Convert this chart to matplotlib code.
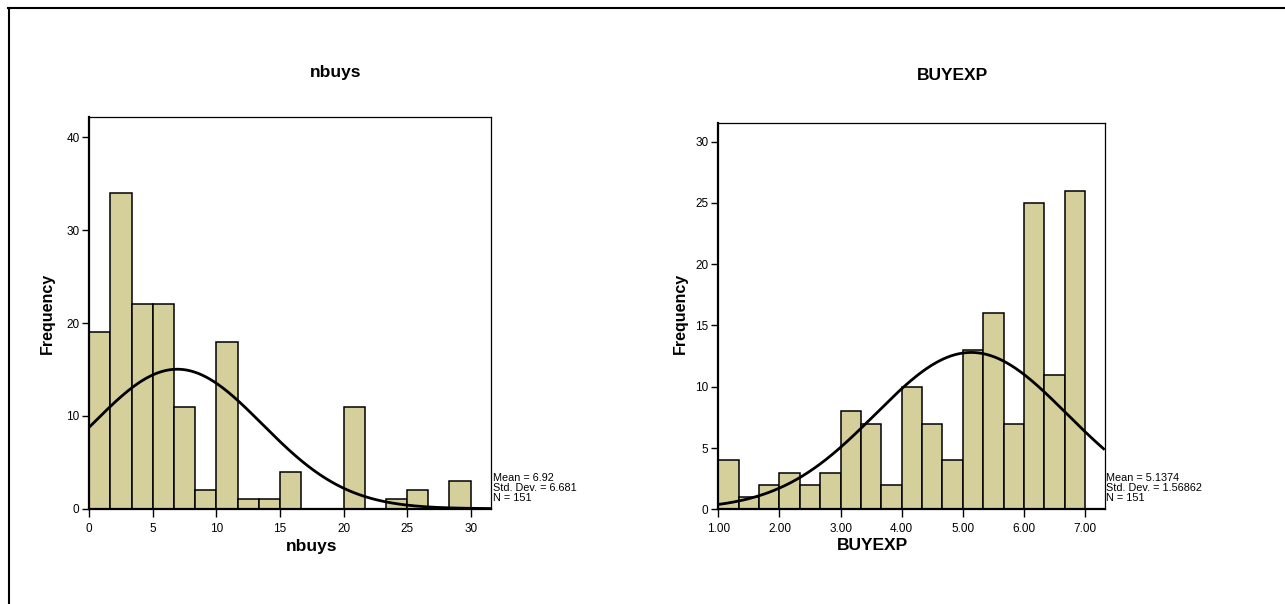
import numpy as np
import matplotlib
matplotlib.use("Agg")
import matplotlib.pyplot as plt
from matplotlib.lines import Line2D

plt.rcParams["font.family"] = ["Liberation Sans", "DejaVu Sans"]

# Histogram of nbuys: 18 bins over 0..30
nbuys_start, nbuys_end = 0.0, 30.0
nbuys_counts = [19, 34, 22, 22, 11, 2, 18, 1, 1, 4, 0, 0, 11, 0, 1, 2, 0, 3]
nbuys_mean, nbuys_sd, nbuys_n = 6.92, 6.681, 151
nbuys_xticks = [0, 5, 10, 15, 20, 25, 30]
nbuys_yticks = [0, 10, 20, 30, 40]

# Histogram of BUYEXP: 18 bins over 1..7
buyexp_start, buyexp_end = 1.0, 7.0
buyexp_counts = [4, 1, 2, 3, 2, 3, 8, 7, 2, 10, 7, 4, 13, 16, 7, 25, 11, 26]
buyexp_mean, buyexp_sd, buyexp_n = 5.1374, 1.56862, 151
buyexp_xticks = [1, 2, 3, 4, 5, 6, 7]
buyexp_yticks = [0, 5, 10, 15, 20, 25, 30]

BAR_COLOR = "#D4CF9B"
W, H = 1285, 604

fig = plt.figure(figsize=(W / 100, H / 100), dpi=100)
fig.patch.set_facecolor("white")


def px_axes(x0, y0, x1, y1):
    return fig.add_axes([x0 / W, 1 - y1 / H, (x1 - x0) / W, (y1 - y0) / H])


def draw_hist(ax, start, end, counts, mean, sd, n, xlim, ylim, xticks, yticks, fmt):
    edges = np.linspace(start, end, len(counts) + 1)
    bw = edges[1] - edges[0]
    ax.bar(edges[:-1], counts, width=bw, align="edge", color=BAR_COLOR,
           edgecolor="black", linewidth=1.1, zorder=2)
    xs = np.linspace(xlim[0], xlim[1], 400)
    ys = n * bw * np.exp(-0.5 * ((xs - mean) / sd) ** 2) / (sd * np.sqrt(2 * np.pi))
    ax.plot(xs, ys, color="black", linewidth=2.0, zorder=3, solid_capstyle="butt")
    ax.set_xlim(*xlim)
    ax.set_ylim(*ylim)
    ax.set_xticks(xticks)
    ax.set_xticklabels([fmt(v) for v in xticks])
    ax.set_yticks(yticks)
    ax.tick_params(axis="both", direction="out", length=5, width=1.0,
                   labelsize=8.5, colors="black", pad=2)
    ax.tick_params(axis="x", length=6, pad=4)
    for side in ("left", "bottom"):
        ax.spines[side].set_linewidth(1.6)
    for side in ("top", "right"):
        ax.spines[side].set_linewidth(0.9)
    ax.set_facecolor("white")


ax1 = px_axes(89.3, 117, 491, 508.7)
draw_hist(ax1, nbuys_start, nbuys_end, nbuys_counts, nbuys_mean, nbuys_sd, nbuys_n,
          (0, 31.6), (0, 42.2), nbuys_xticks, nbuys_yticks, lambda v: f"{v:g}")

ax2 = px_axes(718.3, 122.7, 1104.7, 509.3)
draw_hist(ax2, buyexp_start, buyexp_end, buyexp_counts, buyexp_mean, buyexp_sd, buyexp_n,
          (1.0, 7.32), (0, 31.55), buyexp_xticks, buyexp_yticks, lambda v: f"{v:.2f}")


def ftext(x, y, s, **kw):
    fig.text(x / W, 1 - y / H, s, **kw)


# Titles and axis labels
ftext(336, 72, "nbuys", ha="center", va="center", fontsize=12.5, fontweight="bold")
ftext(953, 75, "BUYEXP", ha="center", va="center", fontsize=12.5, fontweight="bold")
ftext(312, 546, "nbuys", ha="center", va="center", fontsize=12.5, fontweight="bold")
ftext(873, 546, "BUYEXP", ha="center", va="center", fontsize=12.5, fontweight="bold")
ftext(47, 313, "Frequency", ha="center", va="center", rotation=90, fontsize=11.5, fontweight="bold")
ftext(680, 313, "Frequency", ha="center", va="center", rotation=90, fontsize=11.5, fontweight="bold")

# Summary statistics beside each histogram
ftext(493, 488, f"Mean = {nbuys_mean}\nStd. Dev. = {nbuys_sd}\nN = {nbuys_n}",
      ha="left", va="center", fontsize=7.8, linespacing=0.95)
ftext(1106, 488, f"Mean = {buyexp_mean}\nStd. Dev. = {buyexp_sd}\nN = {buyexp_n}",
      ha="left", va="center", fontsize=7.8, linespacing=0.95)

# Outer frame (top and left edges visible)
fig.add_artist(Line2D([9 / W, 9 / W], [0, 1 - 8 / H], transform=fig.transFigure,
                      color="black", linewidth=1.5))
fig.add_artist(Line2D([8 / W, 1], [1 - 8 / H, 1 - 8 / H], transform=fig.transFigure,
                      color="black", linewidth=1.5))

fig.savefig("out.png", dpi=100, facecolor="white")
